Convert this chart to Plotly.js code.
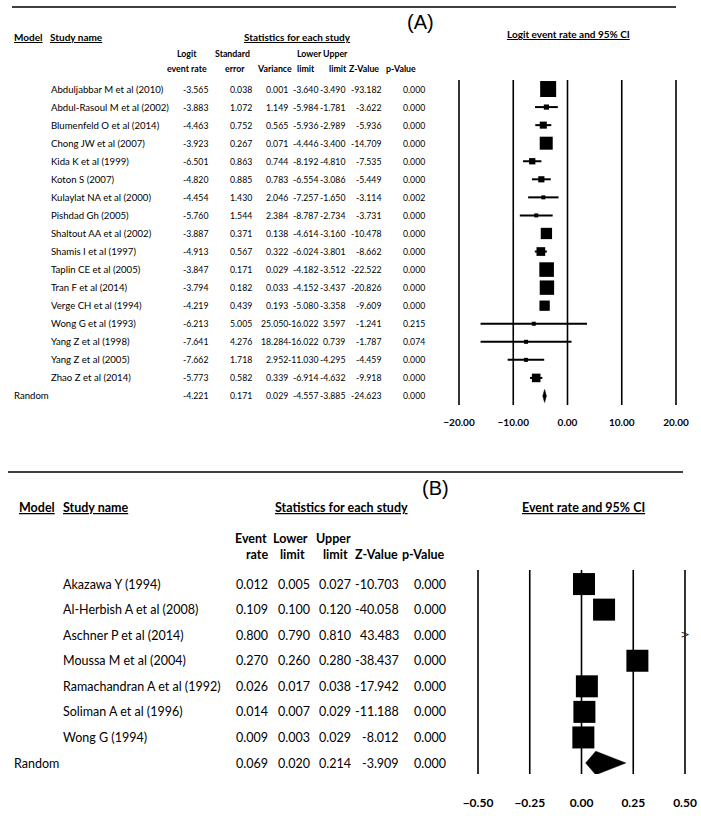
<!DOCTYPE html>
<html><head><meta charset="utf-8">
<script src="https://cdn.plot.ly/plotly-3.0.1.min.js"></script>
<style>html,body{margin:0;padding:0;background:#fff}</style>
</head><body><div id="chart" style="width:701px;height:821px"></div>
<script>
// ---------- Panel A data ----------
const studiesA = ["Abduljabbar M et al (2010)", "Abdul-Rasoul M et al (2002)", "Blumenfeld O et al (2014)", "Chong JW et al (2007)", "Kida K et al (1999)", "Koton S (2007)", "Kulaylat NA et al (2000)", "Pishdad Gh (2005)", "Shaltout AA et al (2002)", "Shamis I et al (1997)", "Taplin CE et al (2005)", "Tran F et al (2014)", "Verge CH et al (1994)", "Wong G et al (1993)", "Yang Z et al (1998)", "Yang Z et al (2005)", "Zhao Z et al (2014)"];
const logitA = [-3.565, -3.883, -4.463, -3.923, -6.501, -4.820, -4.454, -5.760, -3.887, -4.913, -3.847, -3.794, -4.219, -6.213, -7.641, -7.662, -5.773];
const seA = [0.038, 1.072, 0.752, 0.267, 0.863, 0.885, 1.430, 1.544, 0.371, 0.567, 0.171, 0.182, 0.439, 5.005, 4.276, 1.718, 0.582];
const varA = [0.001, 1.149, 0.565, 0.071, 0.744, 0.783, 2.046, 2.384, 0.138, 0.322, 0.029, 0.033, 0.193, 25.050, 18.284, 2.952, 0.339];
const lowerA = [-3.640, -5.984, -5.936, -4.446, -8.192, -6.554, -7.257, -8.787, -4.614, -6.024, -4.182, -4.152, -5.080, -16.022, -16.022, -11.030, -6.914];
const upperA = [-3.490, -1.781, -2.989, -3.400, -4.810, -3.086, -1.650, -2.734, -3.160, -3.801, -3.512, -3.437, -3.358, 3.597, 0.739, -4.295, -4.632];
const zA = [-93.182, -3.622, -5.936, -14.709, -7.535, -5.449, -3.114, -3.731, -10.478, -8.662, -22.522, -20.826, -9.609, -1.241, -1.787, -4.459, -9.918];
const pA = [0.000, 0.000, 0.000, 0.000, 0.000, 0.000, 0.002, 0.000, 0.000, 0.000, 0.000, 0.000, 0.000, 0.215, 0.074, 0.000, 0.000];
// summary (Random): est, se, variance, lower, upper, z, p
const summaryA = [-4.221, 0.171, 0.029, -4.557, -3.885, -24.623, 0.000];
const ticksA = [-20, -10, 0, 10, 20];

// ---------- Panel B data ----------
const studiesB = ["Akazawa Y (1994)", "Al-Herbish A et al (2008)", "Aschner P et al (2014)", "Moussa M et al (2004)", "Ramachandran A et al (1992)", "Soliman A et al (1996)", "Wong G (1994)"];
const rateB = [0.012, 0.109, 0.800, 0.270, 0.026, 0.014, 0.009];
const lowerB = [0.005, 0.100, 0.790, 0.260, 0.017, 0.007, 0.003];
const upperB = [0.027, 0.120, 0.810, 0.280, 0.038, 0.029, 0.029];
const zB = [-10.703, -40.058, 43.483, -38.437, -17.942, -11.188, -8.012];
const pB = [0.000, 0.000, 0.000, 0.000, 0.000, 0.000, 0.000];
// summary (Random): est, lower, upper, z, p
const summaryB = [0.069, 0.020, 0.214, -3.909, 0.000];
const ticksB = [-0.5, -0.25, 0, 0.25, 0.5];

// ---------- helpers ----------
const W = 701, H = 821;
const px = x => x / W;
const py = y => 1 - y / H;
const FONT = 'Lato, "Open Sans", sans-serif';
const f3 = v => v.toFixed(3);
const ann = [];
function txt(text, x, y, yref, anchor, size, bold) {
  ann.push({text: bold ? '<b>' + text + '</b>' : text, x: px(x), xref: 'paper', y: y, yref: yref,
    xanchor: anchor, yanchor: 'middle', showarrow: false,
    font: {family: FONT, size: size, color: '#000'}});
}
function ptxt(text, x, ypx, anchor, size, bold) { txt(text, x, py(ypx), 'paper', anchor, size, bold); }

// ---------- Panel A text ----------
const sA = 9.6, nA = 8.7, hA = 8.8;
ptxt('<u>Model</u>', 12, 37, 'left', 10, true);
ptxt('<u>Study name</u>', 48, 37, 'left', 10, true);
ptxt('<u>Statistics for each study</u>', 297, 37, 'center', 10, true);
ptxt('<u>Logit event rate and 95% CI</u>', 568, 34, 'center', 10, true);
ann.push({text: '(A)', x: px(420), xref: 'paper', y: py(22), yref: 'paper', xanchor: 'center', yanchor: 'middle', showarrow: false, font: {family: 'Liberation Sans, Arial, sans-serif', size: 20, color: '#000'}});
ptxt('Logit', 187, 54, 'center', hA, true);
ptxt('event rate', 187, 69, 'center', hA, true);
ptxt('Standard', 232, 54, 'center', hA, true);
ptxt('error', 235, 69, 'center', hA, true);
ptxt('Variance', 274, 69, 'center', hA, true);
ptxt('Lower', 309, 54, 'center', hA, true);
ptxt('limit', 306, 69, 'center', hA, true);
ptxt('Upper', 335, 54, 'center', hA, true);
ptxt('limit', 338, 69, 'center', hA, true);
ptxt('Z-Value', 364, 69, 'center', hA, true);
ptxt('p-Value', 401, 69, 'center', hA, true);

const colA = [210, 254, 290, 320, 347, 383, 427];
studiesA.forEach((s, i) => {
  txt(s, 49, i, 'y', 'left', sA, false);
  [logitA[i], seA[i], varA[i], lowerA[i], upperA[i], zA[i], pA[i]].forEach((v, j) => txt(f3(v), colA[j], i, 'y', 'right', nA, false));
});
const rA = studiesA.length;
txt('Random', 12, rA, 'y', 'left', sA, false);
summaryA.forEach((v, j) => txt(f3(v), colA[j], rA, 'y', 'right', nA, false));

// ---------- Panel B text ----------
const sB = 12.5;
ptxt('<u>Model</u>', 17, 507, 'left', sB, true);
ptxt('<u>Study name</u>', 61, 507, 'left', sB, true);
ptxt('<u>Statistics for each study</u>', 341, 507, 'center', sB, true);
ptxt('<u>Event rate and 95% CI</u>', 583, 508, 'center', sB, true);
ann.push({text: '(B)', x: px(435), xref: 'paper', y: py(488), yref: 'paper', xanchor: 'center', yanchor: 'middle', showarrow: false, font: {family: 'Liberation Sans, Arial, sans-serif', size: 20, color: '#000'}});
ptxt('Event', 251, 538, 'center', sB, true);
ptxt('rate', 257, 554, 'center', sB, true);
ptxt('Lower', 290, 538, 'center', sB, true);
ptxt('limit', 292, 554, 'center', sB, true);
ptxt('Upper', 333, 538, 'center', sB, true);
ptxt('limit', 335, 554, 'center', sB, true);
ptxt('Z-Value', 376, 554, 'center', sB, true);
ptxt('p-Value', 423, 554, 'center', sB, true);

const colB = [270, 312, 353, 401, 448];
studiesB.forEach((s, i) => {
  txt(s, 61, i, 'y2', 'left', sB, false);
  [rateB[i], lowerB[i], upperB[i], zB[i], pB[i]].forEach((v, j) => txt(f3(v), colB[j], i, 'y2', 'right', sB, false));
});
const rB = studiesB.length;
txt('Random', 12, rB, 'y2', 'left', sB, false);
summaryB.forEach((v, j) => txt(f3(v), colB[j], rB, 'y2', 'right', sB, false));

// ---------- traces ----------
const idxA = studiesA.map((_, i) => i);
const sizeA = varA.map(v => Math.max(4, Math.min(16, 16 * Math.sqrt(0.136 / (v + 0.135)))));
const traces = [];
traces.push({
  type: 'scatter', mode: 'markers', x: logitA, y: idxA, xaxis: 'x', yaxis: 'y',
  marker: {symbol: 'square', size: sizeA, color: '#000', opacity: 1, line: {width: 0}},
  error_x: {type: 'data', symmetric: false, array: upperA.map((u, i) => u - logitA[i]), arrayminus: lowerA.map((l, i) => logitA[i] - l), color: '#000', thickness: 2, width: 0},
  hoverinfo: 'skip'
});
const dA = 0.36;
traces.push({
  type: 'scatter', mode: 'lines', xaxis: 'x', yaxis: 'y', fill: 'toself', fillcolor: '#000',
  x: [summaryA[3], summaryA[0], summaryA[4], summaryA[0], summaryA[3]],
  y: [rA, rA - dA, rA, rA + dA, rA], line: {color: '#000', width: 0.5}, hoverinfo: 'skip'
});

const idxB = studiesB.map((_, i) => i);
traces.push({
  type: 'scatter', mode: 'markers', x: rateB, y: idxB, xaxis: 'x2', yaxis: 'y2',
  marker: {symbol: 'square', size: 22, color: '#000', opacity: 1, line: {width: 0}},
  error_x: {type: 'data', symmetric: false, array: upperB.map((u, i) => u - rateB[i]), arrayminus: lowerB.map((l, i) => rateB[i] - l), color: '#000', thickness: 2, width: 0},
  hoverinfo: 'skip'
});
const dB = 0.46;
traces.push({
  type: 'scatter', mode: 'lines', xaxis: 'x2', yaxis: 'y2', fill: 'toself', fillcolor: '#000',
  x: [summaryB[1], summaryB[0], summaryB[2], summaryB[0], summaryB[1]],
  y: [rB, rB - dB, rB, rB + dB, rB], line: {color: '#000', width: 0.5}, hoverinfo: 'skip'
});
// off-scale indicators
const maxB = ticksB[ticksB.length - 1];
const off = idxB.filter(i => rateB[i] > maxB);
traces.push({
  type: 'scatter', mode: 'text', xaxis: 'x2', yaxis: 'y2', x: off.map(() => maxB), y: off,
  text: off.map(() => '>'), textposition: 'middle center', cliponaxis: false,
  textfont: {family: 'DejaVu Sans', size: 11, color: '#222'}, hoverinfo: 'skip'
});

// axis helper: pixel extents of first/last tick, padded 1px
function gridAxis(x0, x1, ticks, size, ticklen, anchor) {
  const lo = ticks[0], hi = ticks[ticks.length - 1];
  const pad = (hi - lo) / (x1 - x0);
  return {
    anchor: anchor, domain: [px(x0 - 1), px(x1 + 1)], range: [lo - pad, hi + pad], tickvals: ticks, tickformat: '.2f',
    showgrid: false, zeroline: false, showline: false,
    ticks: 'outside', ticklen: ticklen, tickcolor: 'rgba(0,0,0,0)',
    tickfont: {family: FONT, size: size, color: '#000', weight: 'bold'}, fixedrange: true
  };
}
// vertical reference lines at each tick, spanning the plot height
const vlines = (ticks, xref, yref) => ticks.map(t => ({type: 'line', xref: xref, yref: yref + ' domain', x0: t, x1: t, y0: 0, y1: 1, line: {color: '#000', width: 1.6}, layer: 'below'}));

const layout = {
  width: W, height: H, margin: {l: 0, r: 0, t: 0, b: 0},
  paper_bgcolor: '#fff', plot_bgcolor: 'rgba(0,0,0,0)', showlegend: false,
  xaxis: gridAxis(459, 676, ticksA, 10, 8, 'y'),
  yaxis: {anchor: 'x', domain: [py(405), py(80)], range: [rA + 0.5, -0.5], visible: false, fixedrange: true},
  xaxis2: gridAxis(478, 685, ticksB, 12, 18, 'y2'),
  yaxis2: {anchor: 'x2', domain: [py(774), py(570)], range: [rB + 0.43, -0.55], visible: false, fixedrange: true},
  annotations: ann,
  shapes: [
    {type: 'line', xref: 'paper', yref: 'paper', x0: px(12), x1: px(676), y0: py(7), y1: py(7), line: {color: '#000', width: 1.5}},
    {type: 'line', xref: 'paper', yref: 'paper', x0: px(8), x1: px(683), y0: py(472), y1: py(472), line: {color: '#000', width: 1.5}}
  ].concat(vlines(ticksA, 'x', 'y'), vlines(ticksB, 'x2', 'y2'))
};
Plotly.newPlot('chart', traces, layout, {displayModeBar: false, staticPlot: true});
</script></body></html>
